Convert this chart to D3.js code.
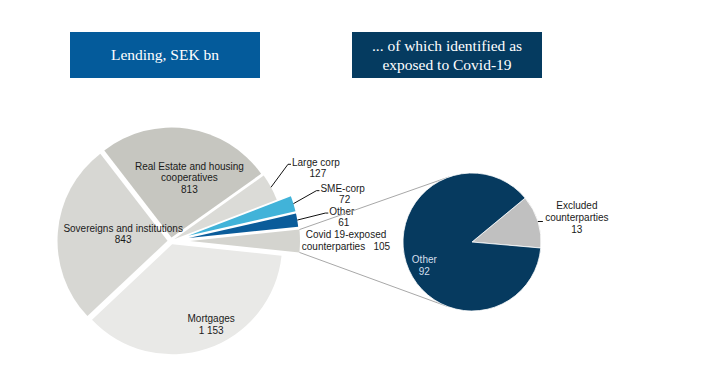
<!DOCTYPE html>
<html>
<head>
<meta charset="utf-8">
<script src="https://cdn.jsdelivr.net/npm/d3@7"></script>
<style>
body { margin: 0; background: #fff; }
svg { display: block; }
text { font-family: "Liberation Sans", Arial, sans-serif; font-size: 10px; fill: #1a1a1a; }
.title { font-family: "Liberation Serif", serif; font-size: 15.5px; fill: #fff; }
</style>
</head>
<body>
<svg id="chart" width="707" height="379"></svg>
<script>
// lending, SEK bn (clockwise from the covid slice)
var categories = ["Covid 19-exposed counterparties", "Mortgages", "Sovereigns and institutions",
  "Real Estate and housing cooperatives", "Large corp", "SME-corp", "Other"];
var values = [105, 1153, 843, 813, 127, 72, 61];
var labelLines = [
  ["Covid 19-exposed", "counterparties   105"],
  ["Mortgages", "1 153"],
  ["Sovereigns and institutions", "843"],
  ["Real Estate and housing", "cooperatives", "813"],
  ["Large corp", "127"],
  ["SME-corp", "72"],
  ["Other", "61"]
];

// of which covid-exposed
var covidCategories = ["Excluded counterparties", "Other"];
var covidValues = [13, 92];
var covidLabelLines = [["Excluded", "counterparties", "13"], ["Other", "92"]];

var titles = [["Lending, SEK bn"], ["... of which identified as", "exposed to Covid-19"]];

var colors = {
  "Covid 19-exposed counterparties": "#d4d4cf",
  "Mortgages": "#e9e9e7",
  "Sovereigns and institutions": "#d7d7d3",
  "Real Estate and housing cooperatives": "#c6c6c0",
  "Large corp": "#dbdbd7",
  "SME-corp": "#41b3d9",
  "Other": "#0a5c9a"
};
var covidColors = { "Excluded counterparties": "#c0c0c0", "Other": "#063a5f" };

var svg = d3.select("#chart");
var rad = Math.PI / 180;

// title boxes
var boxes = [{ x: 70, fill: "#045b9b" }, { x: 352, fill: "#053b60" }];
titles.forEach(function(lines, i) {
  var g = svg.append("g").attr("transform", "translate(" + boxes[i].x + ",32)");
  g.append("rect").attr("width", 190).attr("height", 46).attr("fill", boxes[i].fill);
  var t = g.append("text").attr("class", "title").attr("text-anchor", "middle")
    .attr("x", 95).attr("y", 23 - (lines.length - 1) * 9.5 + 5);
  lines.forEach(function(l, j) {
    t.append("tspan").attr("x", 95).attr("dy", j ? 19 : 0).text(l);
  });
});

// main pie
var main = { cx: 171, cy: 241, r: 110 };
var explode = {
  "Covid 19-exposed counterparties": 19, "SME-corp": 18, "Other": 18
};
var covidShare = values[0] / d3.sum(values) * 2 * Math.PI;
var pie = d3.pie().sort(null).value(function(d) { return d.value; })
  .startAngle(Math.PI / 2 - covidShare / 2)
  .endAngle(Math.PI / 2 - covidShare / 2 + 2 * Math.PI);
var arc = d3.arc().innerRadius(0).outerRadius(main.r);

var data = categories.map(function(c, i) { return { name: c, value: values[i], lines: labelLines[i] }; });
var arcs = pie(data);

function polar(a, r) { return [Math.sin(a) * r, -Math.cos(a) * r]; }
function mid(d) { return (d.startAngle + d.endAngle) / 2; }
function ex(d) { return explode[d.data.name] || 3.5; }

var gMain = svg.append("g").attr("transform", "translate(" + main.cx + "," + main.cy + ")");

// connector lines to the covid pie (drawn first, beneath)
var side = { cx: 472, cy: 242, r: 69 };
var covidArc = arcs[0];
var cOff = polar(mid(covidArc), ex(covidArc));
[covidArc.startAngle, covidArc.endAngle].forEach(function(a, k) {
  var p = polar(a, main.r);
  var px = main.cx + cOff[0] + p[0], py = main.cy + cOff[1] + p[1];
  var dx = side.cx - px, dy = side.cy - py, d = Math.sqrt(dx * dx + dy * dy);
  var base = Math.atan2(dy, dx), off = Math.asin(side.r / d) * (k ? 1 : -1);
  var len = Math.sqrt(d * d - side.r * side.r);
  svg.append("line")
    .attr("x1", px).attr("y1", py)
    .attr("x2", px + Math.cos(base + off) * len).attr("y2", py + Math.sin(base + off) * len)
    .attr("stroke", "#a8a8a8").attr("stroke-width", 1);
});

gMain.selectAll("path")
  .data(arcs)
  .enter()
  .append("path")
  .attr("transform", function(d) { var o = polar(mid(d), ex(d)); return "translate(" + o[0] + "," + o[1] + ")"; })
  .attr("d", arc)
  .attr("fill", function(d) { return colors[d.data.name]; });

// inside labels: [radius, dx, dy]
var inside = {
  "Mortgages": [88, 12, 0],
  "Sovereigns and institutions": [48, 0, -3],
  "Real Estate and housing cooperatives": [64, 9, 0],
  "Covid 19-exposed counterparties": [175, 0, -0.5]
};
// outside labels with leader: [dx, dy] of elbow from slice edge
var leaders = {
  "Large corp": [17, -23],
  "SME-corp": [23, -13],
  "Other": [28, -7]
};

arcs.forEach(function(d) {
  var name = d.data.name;
  if (inside[name]) {
    var s = inside[name];
    var p = polar(mid(d), s[0]);
    var x = p[0] + s[1], y = p[1] + s[2] - (d.data.lines.length - 1) * 5.75 + 3.5;
    var t = gMain.append("text").attr("text-anchor", "middle").attr("x", x).attr("y", y)
      .style("white-space", "pre");
    d.data.lines.forEach(function(l, j) {
      t.append("tspan").attr("x", x).attr("dy", j ? 11.5 : 0).text(l);
    });
  } else {
    var o = polar(mid(d), main.r + ex(d));
    var e = leaders[name];
    var ex2 = o[0] + e[0], ey2 = o[1] + e[1];
    gMain.append("polyline")
      .attr("points", [[o[0], o[1]], [ex2, ey2], [ex2 + 3, ey2]].join(" "))
      .attr("fill", "none").attr("stroke", "#111").attr("stroke-width", 1);
    var t1 = gMain.append("text").attr("x", ex2 + 4).attr("y", ey2 + 1.5).text(d.data.lines[0]);
    var w = t1.node().getComputedTextLength();
    gMain.append("text").attr("text-anchor", "middle")
      .attr("x", ex2 + 4 + w / 2 + 2).attr("y", ey2 + 12.5).text(d.data.lines[1]);
  }
});

// covid pie
var covidShareEx = covidValues[0] / d3.sum(covidValues) * 2 * Math.PI;
var pie2 = d3.pie().sort(null).value(function(d) { return d.value; })
  .startAngle(95 * rad - covidShareEx)
  .endAngle(95 * rad - covidShareEx + 2 * Math.PI);
var arc2 = d3.arc().innerRadius(0).outerRadius(side.r);
var data2 = covidCategories.map(function(c, i) { return { name: c, value: covidValues[i], lines: covidLabelLines[i] }; });
var arcs2 = pie2(data2);

var gSide = svg.append("g").attr("transform", "translate(" + side.cx + "," + side.cy + ")");
gSide.selectAll("path")
  .data(arcs2)
  .enter()
  .append("path")
  .attr("d", arc2)
  .attr("fill", function(d) { return covidColors[d.data.name]; })
  .attr("stroke", "#fff").attr("stroke-width", 0.8);

// other label inside
var oth = arcs2[1];
var op = polar(mid(oth), 52);
var ot = gSide.append("text").attr("text-anchor", "middle")
  .attr("x", op[0] + 2).attr("y", op[1] + 6).style("fill", "#d3dfec");
oth.data.lines.forEach(function(l, j) {
  ot.append("tspan").attr("x", op[0] + 2).attr("dy", j ? 11.5 : 0).text(l);
});

// excluded label outside
var exc = arcs2[0];
var xp = polar(mid(exc), side.r);
gSide.append("line").attr("x1", xp[0]).attr("y1", xp[1]).attr("x2", xp[0] + 5).attr("y2", xp[1])
  .attr("stroke", "#111").attr("stroke-width", 1);
var xt = gSide.append("text").attr("text-anchor", "middle")
  .attr("x", xp[0] + 39).attr("y", xp[1] - 13);
exc.data.lines.forEach(function(l, j) {
  xt.append("tspan").attr("x", xp[0] + 39).attr("dy", j ? 12 : 0).text(l);
});
</script>
</body>
</html>
